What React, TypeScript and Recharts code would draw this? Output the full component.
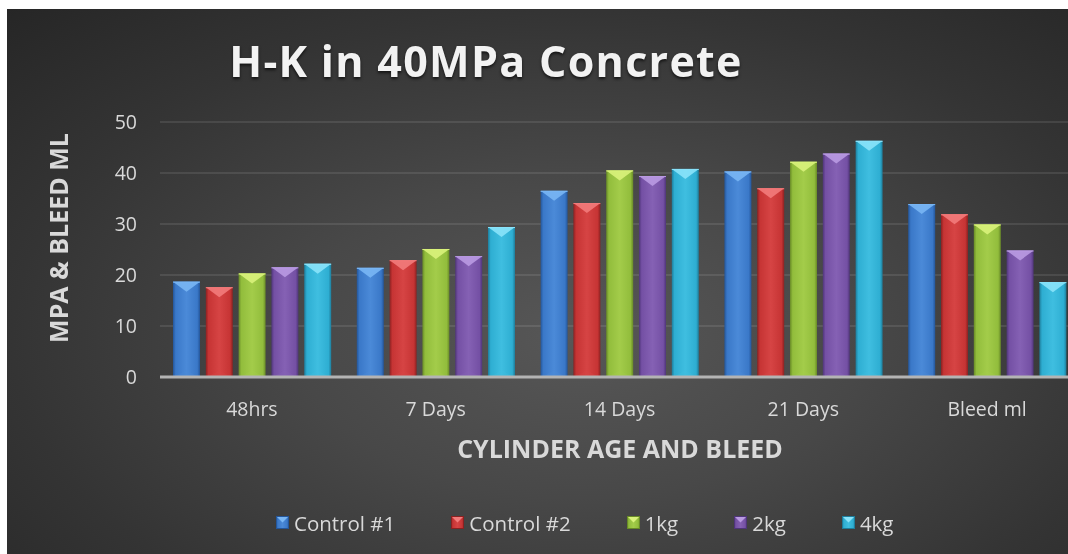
import { BarChart, Bar, XAxis, YAxis, CartesianGrid } from "recharts";

const categories = ["48hrs", "7 Days", "14 Days", "21 Days", "Bleed ml"];
const control1 = [18.7, 21.4, 36.5, 40.3, 33.9];
const control2 = [17.6, 22.9, 34.1, 37.0, 31.9];
const kg1 = [20.3, 25.1, 40.5, 42.2, 29.9];
const kg2 = [21.5, 23.7, 39.4, 43.8, 24.8];
const kg4 = [22.2, 29.4, 40.8, 46.3, 18.6];
const yTicks = [0, 10, 20, 30, 40, 50];

const SERIES = [
  { key: "control1", name: "Control #1", values: control1, base: "#3a78c8", light: "#4b8ad8", dark: "#24569a", top: "#79b6f4" },
  { key: "control2", name: "Control #2", values: control2, base: "#c63434", light: "#d64444", dark: "#8a2121", top: "#f27b7b" },
  { key: "kg1", name: "1kg", values: kg1, base: "#92bd3c", light: "#a3cc4a", dark: "#688a27", top: "#d9f27b" },
  { key: "kg2", name: "2kg", values: kg2, base: "#7450a4", light: "#8561b4", dark: "#4f3579", top: "#b99ae2" },
  { key: "kg4", name: "4kg", values: kg4, base: "#2eaed2", light: "#3fbee0", dark: "#1e7d9b", top: "#8ae3fa" },
];

const data = categories.map((name, i) => {
  const row: Record<string, string | number> = { name };
  for (const s of SERIES) row[s.key] = s.values[i];
  return row;
});

type S = (typeof SERIES)[number];

// bar with a light chevron on top, like Excel's bevel style
function BevelBar(props: any) {
  const { x, y, width, height, s } = props as { x: number; y: number; width: number; height: number; s: S };
  if (!height || height <= 0) return null;
  const b = Math.min(10, width / 2.6);
  const cx = x + width / 2;
  return (
    <g>
      <rect x={x} y={y} width={width} height={height} fill={`url(#face-${s.key})`} />
      <polygon points={`${x},${y} ${x + width},${y} ${cx},${y + b}`} fill={s.top} opacity={0.9} />
      <line x1={x} y1={y + 0.5} x2={x + width} y2={y + 0.5} stroke={s.top} strokeWidth={1} />
      <polygon
        points={`${x + 2},${y + height} ${x + width - 2},${y + height} ${cx},${y + height - b * 0.7}`}
        fill={s.light}
        opacity={0.35}
      />
    </g>
  );
}

function LegendSwatch({ s }: { s: S }) {
  return (
    <svg width={13} height={13} style={{ marginRight: 5, display: "block" }}>
      <rect x={0.5} y={0.5} width={12} height={12} fill={`url(#face-${s.key})`} stroke={s.dark} />
      <polygon points="1,1 12,1 6.5,6.5" fill={s.top} />
    </svg>
  );
}

export default function App() {
  const font = "'Open Sans', sans-serif";
  return (
    <div
      style={{
        position: "fixed",
        left: 7,
        top: 9,
        width: 1080,
        height: 545,
        overflow: "hidden",
        fontFamily: font,
        background:
          "radial-gradient(ellipse 75% 85% at 53% 60%, #575757 0%, #484848 35%, #343434 70%, #262626 100%)",
      }}
    >
      <svg width={0} height={0} style={{ position: "absolute" }}>
        <defs>
          {SERIES.map((s) => (
            <linearGradient key={s.key} id={`face-${s.key}`} x1="0" y1="0" x2="1" y2="0">
              <stop offset="0" stopColor={s.dark} />
              <stop offset="0.1" stopColor={s.base} />
              <stop offset="0.5" stopColor={s.light} />
              <stop offset="0.9" stopColor={s.base} />
              <stop offset="1" stopColor={s.dark} />
            </linearGradient>
          ))}
        </defs>
      </svg>

      <div
        style={{
          position: "absolute",
          left: 479,
          top: 30,
          transform: "translateX(-50%)",
          whiteSpace: "nowrap",
          fontSize: 43,
          lineHeight: 1,
          fontWeight: 700,
          letterSpacing: 1.3,
          color: "#f2f2f2",
          textShadow: "0 2px 3px rgba(0,0,0,0.65)",
        }}
      >
        H-K in 40MPa Concrete
      </div>

      <BarChart
        width={1080}
        height={545}
        data={data}
        margin={{ top: 113, right: 8, left: 0, bottom: 137 }}
        barCategoryGap={13}
        barGap={5.8}
      >
        <CartesianGrid vertical={false} stroke="rgba(255,255,255,0.13)" strokeWidth={1.5} />
        <XAxis
          dataKey="name"
          height={40}
          tickLine={false}
          tickSize={0}
          tickMargin={25}
          axisLine={{ stroke: "#b4b4b4", strokeWidth: 3 }}
          tick={{ fill: "#d9d9d9", fontSize: 19.5, fontFamily: font }}
        />
        <YAxis
          width={153}
          domain={[0, 50]}
          ticks={yTicks}
          axisLine={false}
          tickLine={false}
          tickSize={0}
          tickMargin={23}
          tick={{ fill: "#d9d9d9", fontSize: 19.5, fontFamily: font }}
        />
        {SERIES.map((s) => (
          <Bar
            key={s.key}
            dataKey={s.key}
            name={s.name}
            fill={s.base}
            isAnimationActive={false}
            shape={(p: any) => <BevelBar {...p} s={s} />}
          />
        ))}
      </BarChart>

      <div
        style={{
          position: "absolute",
          left: 50.5,
          top: 228.5,
          transform: "translate(-50%, -50%) rotate(-90deg)",
          whiteSpace: "nowrap",
          fontSize: 25,
          lineHeight: 1,
          fontWeight: 700,
          color: "#d9d9d9",
        }}
      >
        MPA &amp; BLEED ML
      </div>
      <div
        style={{
          position: "absolute",
          left: 613,
          top: 426.5,
          transform: "translateX(-50%)",
          whiteSpace: "nowrap",
          fontSize: 25,
          lineHeight: 1,
          fontWeight: 700,
          color: "#d9d9d9",
        }}
      >
        CYLINDER AGE AND BLEED
      </div>

      <div
        style={{
          position: "absolute",
          left: 269,
          top: 503.5,
          display: "flex",
          alignItems: "center",
          gap: 56,
          whiteSpace: "nowrap",
        }}
      >
        {SERIES.map((s) => (
          <div key={s.key} style={{ display: "flex", alignItems: "center" }}>
            <LegendSwatch s={s} />
            <span style={{ fontSize: 20.5, lineHeight: 1, color: "#d9d9d9" }}>{s.name}</span>
          </div>
        ))}
      </div>
    </div>
  );
}
